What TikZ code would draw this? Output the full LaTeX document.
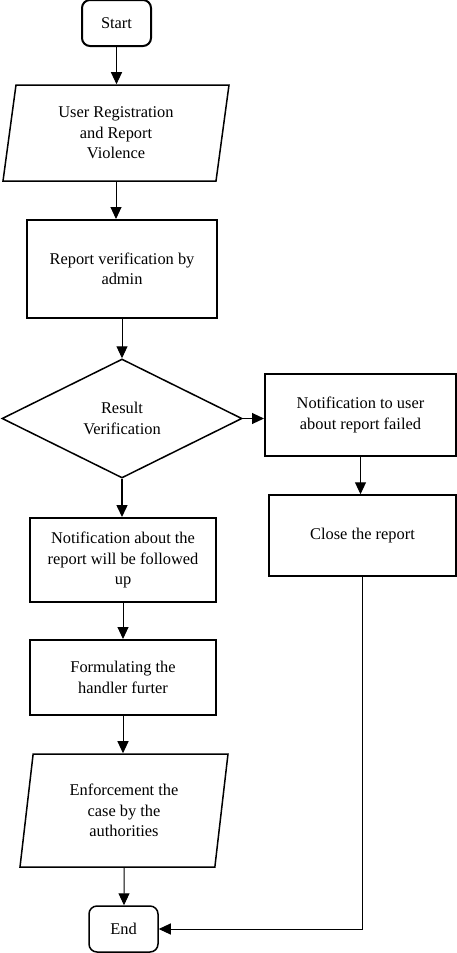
\documentclass[tikz,border=0pt]{standalone}
\usepackage{fontspec}
\setmainfont{Liberation Serif}
\usetikzlibrary{shapes.geometric, arrows.meta, positioning}

\begin{document}
\begin{tikzpicture}[x=1pt,y=-1pt,
    font=\fontsize{16.4}{20.5}\selectfont,
    box/.style={draw,line width=1.5pt,align=center,inner sep=0pt},
    term/.style={box,rounded corners=8pt,minimum width=69pt,minimum height=46pt},
    io/.style={box,trapezium,trapezium left angle=76,trapezium right angle=104,trapezium stretches body},
    flow/.style={line width=1pt,-{Triangle[width=11pt,length=12pt]}}]
  \useasboundingbox (0,0) rectangle (457,953);
  % left column
  \node[term,line width=2pt] (start) at (116.5,23) {Start};
  \node[io,minimum width=226pt,minimum height=96pt] (reg) at (116,133) {User Registration\\and Report\\Violence};
  \node[box,line width=2pt,minimum width=190pt,minimum height=98pt] (verif) at (122,269) {Report verification by\\admin};
  \node[box,diamond,aspect=2,minimum width=240pt,minimum height=119pt] (res) at (122,418.5) {Result\\Verification};
  \node[box,line width=2pt,minimum width=186pt,minimum height=84pt] (follow) at (123,560) {Notification about the\\report will be followed\\up};
  \node[box,line width=2pt,minimum width=186pt,minimum height=75pt] (form) at (123,677.5) {Formulating the\\handler furter};
  \node[io,minimum width=208pt,minimum height=113pt] (enf) at (124,810.5) {Enforcement the\\case by the\\authorities};
  \node[term] (end) at (123.5,929) {End};
  % right column
  \node[box,line width=2pt,minimum width=191pt,minimum height=82pt] (fail) at (360.5,415) {Notification to user\\about report failed};
  \node[box,minimum width=187pt,minimum height=81pt] (close) at (362.5,535.5) {Close the report};

  \draw[flow] (start) -- (start |- reg.north);
  \draw[flow] (reg) -- (reg |- verif.north);
  \draw[flow] (verif) -- (verif |- res.north);
  \draw[flow] (res) -- (res -| fail.west);
  \draw[flow] (fail) -- (fail |- close.north);
  \draw[flow,line width=1.5pt] (res) -- (res |- follow.north);
  \draw[flow] (follow) -- (follow |- form.north);
  \draw[flow] (form) -- (form |- enf.north);
  \draw[flow] (enf) -- (enf |- end.north);
  \draw[flow] (close) |- (end);
\end{tikzpicture}
\end{document}
